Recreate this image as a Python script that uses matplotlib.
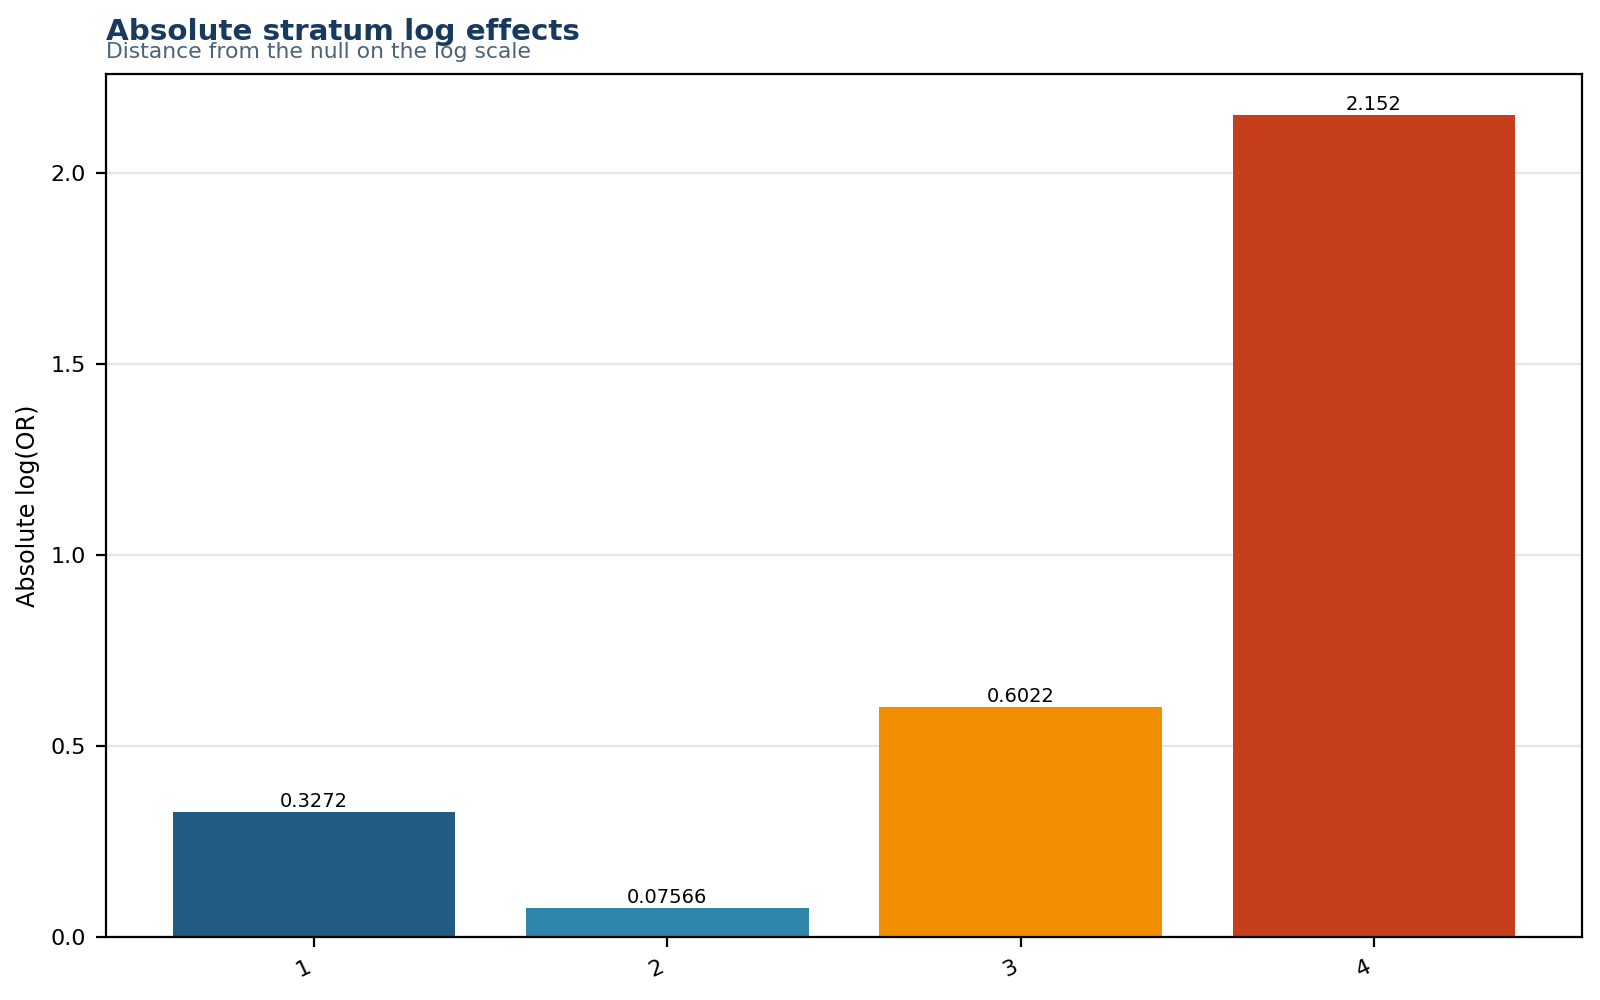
import numpy as np
import matplotlib
matplotlib.use("Agg")
from matplotlib import pyplot as plt

# stratum values
strata = ["1", "2", "3", "4"]
abs_log_or = [0.3272, 0.07566, 0.6022, 2.152]
bar_labels = ["0.3272", "0.07566", "0.6022", "2.152"]
colors = ["#215B82", "#2E86AB", "#F18F01", "#C73E1D"]

fig, ax = plt.subplots(figsize=(8, 5), dpi=200)
fig.subplots_adjust(left=0.066, right=0.989, bottom=0.063, top=0.926)

x = np.arange(len(strata))
bars = ax.bar(x, abs_log_or, color=colors, width=0.8, zorder=2)
ax.bar_label(bars, labels=bar_labels, fontsize=7, padding=0.5)

ax.set_xticks(x)
ax.set_xticklabels(strata, rotation=25, ha="right", fontsize=8)
ax.tick_params(axis="y", labelsize=8)
ax.set_ylabel("Absolute log(OR)", fontsize=8.6)
ax.yaxis.grid(True, color="#e6e6e6", linewidth=0.8, zorder=0)
ax.set_axisbelow(True)

ax.text(0.0, 1.039, "Absolute stratum log effects", transform=ax.transAxes,
        fontsize=10.6, fontweight="bold", color="#173A5E", ha="left", va="baseline")
ax.text(0.0, 1.019, "Distance from the null on the log scale", transform=ax.transAxes,
        fontsize=7.9, color="#4A6378", ha="left", va="baseline")

plt.savefig("out.png", dpi=200)
